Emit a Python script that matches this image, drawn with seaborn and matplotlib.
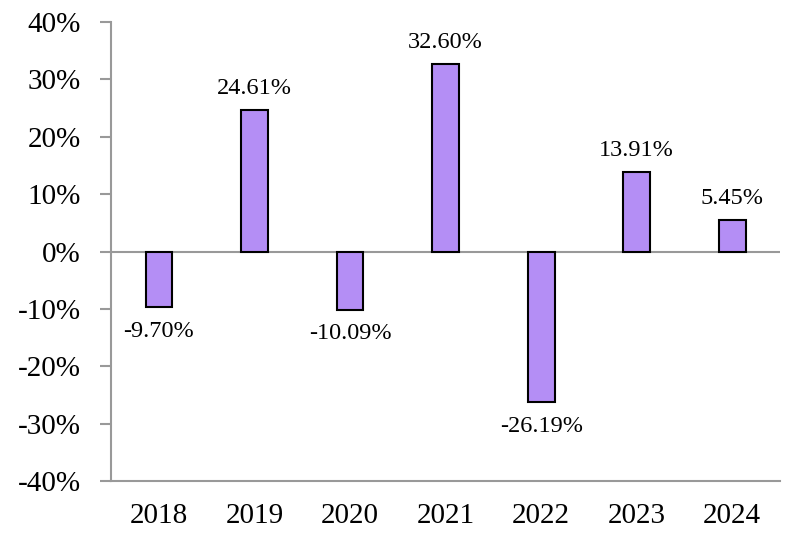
import matplotlib
matplotlib.use("Agg")
import matplotlib.pyplot as plt
import seaborn as sns
import pandas as pd
from matplotlib.ticker import FuncFormatter

years = ["2018", "2019", "2020", "2021", "2022", "2023", "2024"]
returns = [-9.70, 24.61, -10.09, 32.60, -26.19, 13.91, 5.45]
yticks = [-40, -30, -20, -10, 0, 10, 20, 30, 40]

sns.set_style("white")
plt.rcParams["font.family"] = ["Liberation Serif", "DejaVu Serif"]
plt.rcParams["text.color"] = "black"
plt.rcParams["xtick.color"] = "black"
plt.rcParams["ytick.color"] = "black"

df = pd.DataFrame({"year": years, "ret": returns})

fig = plt.figure(figsize=(8, 5.5), dpi=100)
ax = fig.add_axes([0.139, 0.125, 0.836, 0.835])

sns.barplot(data=df, x="year", y="ret", color="#B48EF5", saturation=1,
            edgecolor="black", linewidth=1.5, width=0.28, ax=ax, zorder=3)

gray = "#999999"
ax.axhline(0, color=gray, linewidth=1.5, zorder=2)
ax.set_ylim(-40, 40)
ax.set_xlim(-0.5, 6.5)
ax.set_yticks(yticks)
ax.yaxis.set_major_formatter(FuncFormatter(lambda v, p: f"{int(v)}%"))
ax.set_xlabel("")
ax.set_ylabel("")

for s in ["top", "right"]:
    ax.spines[s].set_visible(False)
for s in ["left", "bottom"]:
    ax.spines[s].set_color(gray)
    ax.spines[s].set_linewidth(1.5)

ax.tick_params(axis="y", which="both", left=True, length=8, width=1.5,
               color=gray, labelcolor="black", labelsize=21, pad=14,
               direction="out")
ax.tick_params(axis="x", bottom=False, labelsize=21, labelcolor="black", pad=12)

pos_labels = [f"{v:.2f}%" if v >= 0 else "" for v in returns]
neg_labels = [f"{v:.2f}%" if v < 0 else "" for v in returns]
ax.bar_label(ax.containers[0], labels=pos_labels, padding=8, fontsize=17.5,
             color="black")
ax.bar_label(ax.containers[0], labels=neg_labels, padding=10, fontsize=17.5,
             color="black")

fig.savefig("out.png", dpi=100)
